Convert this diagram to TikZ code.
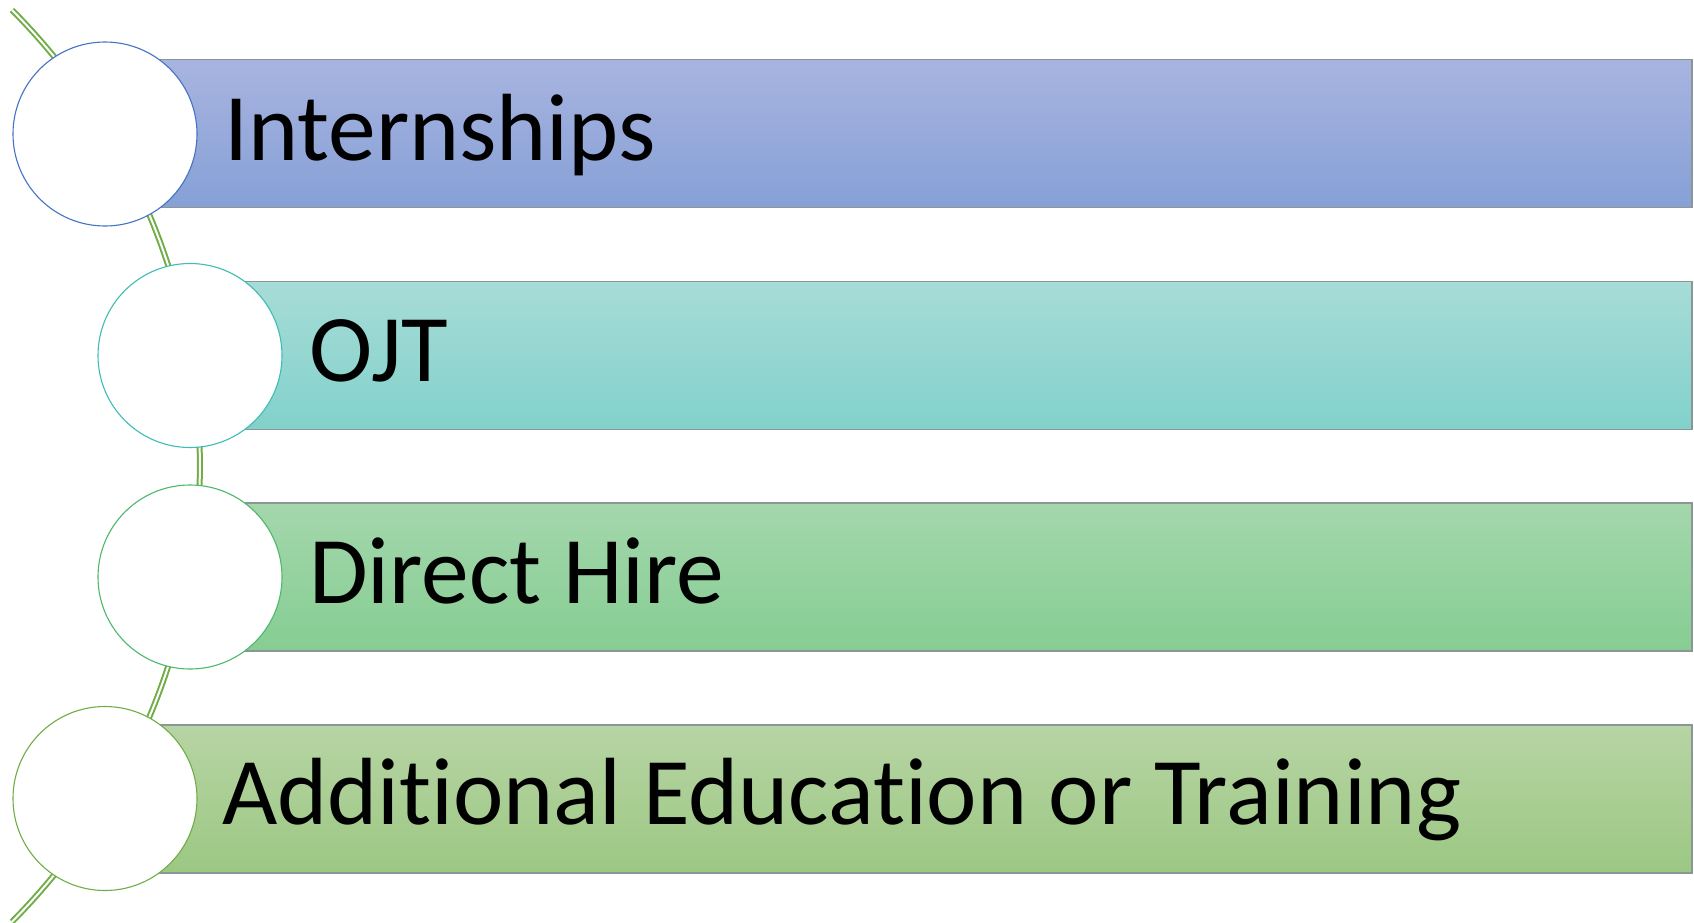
\documentclass[tikz,border=0pt]{standalone}
\usepackage{fontspec}
\setmainfont{Carlito}[Ligatures=NoCommon]
\definecolor{arcgreen}{HTML}{70AD47}
\definecolor{barline}{HTML}{8C9696}
\definecolor{cA}{HTML}{4472C4}
\definecolor{cB}{HTML}{3DBDB4}
\definecolor{cC}{HTML}{4DB86A}
\definecolor{cD}{HTML}{70AD47}
\definecolor{tA}{HTML}{A8B4E0}\definecolor{bA}{HTML}{86A0D6}
\definecolor{tB}{HTML}{A7DCD7}\definecolor{bB}{HTML}{82D1CB}
\definecolor{tC}{HTML}{A4D7AC}\definecolor{bC}{HTML}{86CD93}
\definecolor{tD}{HTML}{B7D4A4}\definecolor{bD}{HTML}{9CC883}
\tikzset{
  bar/.style={draw=barline, line width=1.4pt},
  ring/.style={circle, fill=white, line width=1.1pt, minimum size=184pt, inner sep=0pt},
  label/.style={anchor=base west, inner sep=0pt, font=\fontsize{95.5}{100}\selectfont, text=black},
  track/.style={draw=arcgreen, line width=2pt, double=white, double distance=2pt}
}
\begin{document}
\begin{tikzpicture}[x=1pt,y=-1pt]
\useasboundingbox (0,0) rectangle (1694,922);
% connecting arc
\draw[track] (12,10) arc[start angle=-44.8, end angle=44.8, radius=647];
% bars
\draw[bar, top color=tA, bottom color=bA] (105,59.5) rectangle (1692,207.5);
\draw[bar, top color=tB, bottom color=bB] (190,281.5) rectangle (1692,429.5);
\draw[bar, top color=tC, bottom color=bC] (190,503) rectangle (1692,651);
\draw[bar, top color=tD, bottom color=bD] (105,725) rectangle (1692,873);
% circles
\node[ring, draw=cA] (c1) at (105,134) {};
\node[ring, draw=cB] (c2) at (190,355.5) {};
\node[ring, draw=cC] (c3) at (190,577) {};
\node[ring, draw=cD] (c4) at (105,798.5) {};
% labels
\node[label] (l1) at (224,160) {Internships};
\node[label] (l2) at (309,381.5) {OJT};
\node[label] (l3) at (309,603) {Direct Hire};
\node[label] (l4) at (222,824.5) {Additional Education or Training};
\end{tikzpicture}
\end{document}
